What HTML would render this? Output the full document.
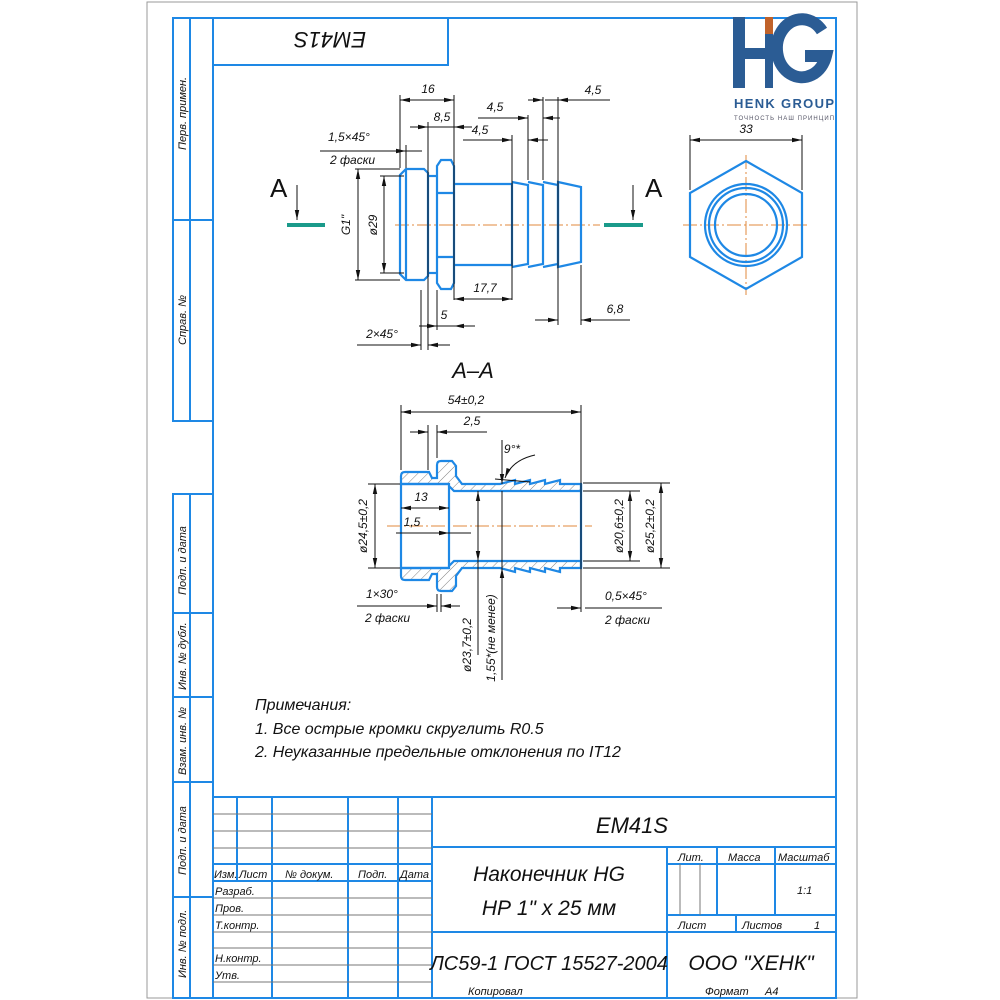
<!DOCTYPE html>
<html><head><meta charset="utf-8"><style>
html,body{margin:0;padding:0;background:#fff;}
svg{display:block;}
text{font-family:"Liberation Sans",sans-serif;font-style:italic;fill:#111;}
</style></head><body>
<svg width="1000" height="1000" viewBox="0 0 1000 1000" xmlns="http://www.w3.org/2000/svg">
<defs>
<marker id="a" viewBox="0 0 10 6" refX="10" refY="3" markerWidth="10" markerHeight="6" orient="auto-start-reverse" markerUnits="userSpaceOnUse"><path d="M0,0.8 L10,3 L0,5.2Z" fill="#111"/></marker>
<pattern id="h" width="7" height="7" patternUnits="userSpaceOnUse" patternTransform="rotate(45)"><line x1="0" y1="0" x2="0" y2="7" stroke="#666" stroke-width="0.8"/></pattern>
</defs>
<rect x="147" y="2" width="710" height="996" fill="none" stroke="#999" stroke-width="1"/>
<g fill="none" stroke="#1e88e5" stroke-width="2">
<path d="M173,18 L836,18 L836,998 L173,998"/>
<line x1="213" y1="18" x2="213" y2="998"/>
<rect x="213" y="18" width="235" height="47"/>
<rect x="173" y="18" width="17" height="403"/>
<line x1="173" y1="220" x2="213" y2="220"/>
<line x1="173" y1="421" x2="213" y2="421"/>
<rect x="173" y="494" width="17" height="504"/>
<line x1="173" y1="494" x2="213" y2="494"/>
<line x1="173" y1="613" x2="213" y2="613"/>
<line x1="173" y1="697" x2="213" y2="697"/>
<line x1="173" y1="782" x2="213" y2="782"/>
<line x1="173" y1="897" x2="213" y2="897"/>
<line x1="213" y1="797" x2="836" y2="797"/>
<line x1="432" y1="797" x2="432" y2="998"/>
<line x1="237" y1="797" x2="237" y2="881"/>
<line x1="272" y1="797" x2="272" y2="998"/>
<line x1="348" y1="797" x2="348" y2="998"/>
<line x1="398" y1="797" x2="398" y2="998"/>
<line x1="213" y1="864" x2="432" y2="864"/>
<line x1="213" y1="881" x2="432" y2="881"/>
<line x1="432" y1="847" x2="836" y2="847"/>
<line x1="432" y1="932" x2="836" y2="932"/>
<line x1="667" y1="847" x2="667" y2="998"/>
<line x1="667" y1="864" x2="836" y2="864"/>
<line x1="667" y1="915" x2="836" y2="915"/>
<line x1="717" y1="847" x2="717" y2="915"/>
<line x1="775" y1="847" x2="775" y2="915"/>
<line x1="736" y1="915" x2="736" y2="932"/>
</g>
<g stroke="#777" stroke-width="1">
<line x1="213" y1="814" x2="432" y2="814"/><line x1="213" y1="831" x2="432" y2="831"/><line x1="213" y1="848" x2="432" y2="848"/>
<line x1="213" y1="898" x2="432" y2="898"/><line x1="213" y1="915" x2="432" y2="915"/><line x1="213" y1="932" x2="432" y2="932"/>
<line x1="213" y1="948" x2="432" y2="948"/><line x1="213" y1="965" x2="432" y2="965"/><line x1="213" y1="982" x2="432" y2="982"/>
<line x1="680" y1="864" x2="680" y2="915"/><line x1="700" y1="864" x2="700" y2="915"/>
</g>
<g font-size="11">
<text transform="translate(186,150) rotate(-90)">Перв. примен.</text>
<text transform="translate(186,345) rotate(-90)">Справ. №</text>
<text transform="translate(186,595) rotate(-90)">Подп. и дата</text>
<text transform="translate(186,690) rotate(-90)">Инв. № дубл.</text>
<text transform="translate(186,775) rotate(-90)">Взам. инв. №</text>
<text transform="translate(186,875) rotate(-90)">Подп. и дата</text>
<text transform="translate(186,978) rotate(-90)">Инв. № подл.</text>
</g>
<text transform="translate(330,32) rotate(180)" font-size="22" text-anchor="middle">EM41S</text>
<g font-size="11">
<text x="214" y="878">Изм.</text><text x="239" y="878">Лист</text><text x="285" y="878">№ докум.</text><text x="358" y="878">Подп.</text><text x="400" y="878">Дата</text>
<text x="215" y="895">Разраб.</text><text x="215" y="912">Пров.</text><text x="215" y="929">Т.контр.</text><text x="215" y="962">Н.контр.</text><text x="215" y="979">Утв.</text>
<text x="678" y="861">Лит.</text><text x="728" y="861">Масса</text><text x="778" y="861">Масштаб</text>
<text x="678" y="929">Лист</text><text x="742" y="929">Листов</text><text x="814" y="929">1</text>
<text x="797" y="894">1:1</text>
<text x="468" y="995">Копировал</text><text x="705" y="995">Формат</text><text x="765" y="995">А4</text>
</g>
<text x="632" y="833" font-size="22" text-anchor="middle">EM41S</text>
<text x="549" y="881" font-size="21" text-anchor="middle">Наконечник HG</text>
<text x="549" y="915" font-size="21" text-anchor="middle">НР 1" x 25 мм</text>
<text x="549" y="970" font-size="20" text-anchor="middle">ЛС59-1 ГОСТ 15527-2004</text>
<text x="751" y="970" font-size="21" text-anchor="middle">ООО "ХЕНК"</text>
<!-- logo -->
<path d="M822,31 A25,29 0 1 0 826,56 L805,56" fill="none" stroke="#2b5c94" stroke-width="12"/>
<g fill="#2b5c94">
<rect x="733" y="17" width="12" height="71"/><rect x="733" y="48" width="36" height="11"/><rect x="765" y="33" width="8" height="55"/>
</g>
<rect x="765" y="17" width="8" height="17" fill="#c0622a"/>
<text x="784" y="108" font-size="13" text-anchor="middle" textLength="100" style="fill:#2b5c94;font-style:normal;font-weight:bold">HENK GROUP</text>
<text x="784" y="120" font-size="6" text-anchor="middle" textLength="100" style="fill:#556;font-style:normal">ТОЧНОСТЬ НАШ ПРИНЦИП</text>
<g stroke="#e08a3c" stroke-width="1" stroke-dasharray="14,3,2,3" fill="none">
<line x1="395" y1="225" x2="600" y2="225"/><line x1="683" y1="225" x2="810" y2="225"/><line x1="746" y1="155" x2="746" y2="295"/>
<line x1="387" y1="526" x2="592" y2="526"/>
</g>
<g fill="none" stroke="#1e88e5" stroke-width="2.2">
<path d="M406,169 L424,169 L428,173 L428,276 L424,280 L406,280 L400,274 L400,175 Z"/>
<line x1="406" y1="169" x2="406" y2="280"/>
<path d="M441,160 L451,160 L454,166 L454,283 L451,289 L441,289 L437,283 L437,166 Z"/>
<line x1="437" y1="193" x2="454" y2="193"/><line x1="437" y1="257" x2="454" y2="257"/>
<line x1="428" y1="176" x2="437" y2="176"/><line x1="428" y1="273" x2="437" y2="273"/>
<path d="M454,184 L512,184 L512,265 L454,265"/>
<path d="M512,182 L528,185 L528,264 L512,267"/>
<path d="M528,182 L543,185 L543,264 L528,267"/>
<path d="M543,182 L558,185 L558,264 L543,267"/>
<path d="M558,182 L581,187 L581,262 L558,267 Z"/>
<polygon points="746,161 802,193 802,257 746,289 690,257 690,193"/>
<circle cx="746" cy="225" r="41"/><circle cx="746" cy="225" r="37"/><circle cx="746" cy="225" r="31"/>
</g>
<g stroke="#1a9a8a" stroke-width="4"><line x1="287" y1="225" x2="325" y2="225"/><line x1="604" y1="225" x2="643" y2="225"/></g>
<g stroke="#111" stroke-width="1" fill="none">
<line x1="297" y1="185" x2="297" y2="220" marker-end="url(#a)"/><line x1="633" y1="185" x2="633" y2="220" marker-end="url(#a)"/>
<line x1="400" y1="95" x2="400" y2="168"/><line x1="454" y1="95" x2="454" y2="300"/><line x1="428" y1="122" x2="428" y2="350"/>
<line x1="406" y1="145" x2="406" y2="168"/><line x1="421" y1="290" x2="421" y2="350"/><line x1="437" y1="290" x2="437" y2="330"/>
<line x1="512" y1="135" x2="512" y2="300"/><line x1="528" y1="115" x2="528" y2="180"/><line x1="543" y1="97" x2="543" y2="180"/><line x1="558" y1="97" x2="558" y2="325"/><line x1="581" y1="265" x2="581" y2="325"/>
<line x1="355" y1="169" x2="400" y2="169"/><line x1="355" y1="280" x2="400" y2="280"/><line x1="380" y1="176" x2="404" y2="176"/><line x1="380" y1="273" x2="404" y2="273"/>
<line x1="690" y1="135" x2="690" y2="190"/><line x1="802" y1="135" x2="802" y2="190"/>
<line x1="400" y1="100" x2="454" y2="100" marker-start="url(#a)" marker-end="url(#a)"/>
<line x1="410" y1="127" x2="428" y2="127" marker-end="url(#a)"/><line x1="472" y1="127" x2="454" y2="127" marker-end="url(#a)"/><line x1="428" y1="127" x2="454" y2="127"/>
<line x1="320" y1="151" x2="406" y2="151" marker-end="url(#a)"/><line x1="422" y1="151" x2="406" y2="151"/>
<line x1="358" y1="169" x2="358" y2="280" marker-start="url(#a)" marker-end="url(#a)"/>
<line x1="384" y1="176" x2="384" y2="273" marker-start="url(#a)" marker-end="url(#a)"/>
<line x1="545" y1="100" x2="610" y2="100"/><line x1="528" y1="100" x2="543" y2="100" marker-end="url(#a)"/><line x1="575" y1="100" x2="558" y2="100" marker-end="url(#a)"/>
<line x1="478" y1="118" x2="528" y2="118" marker-end="url(#a)"/><line x1="560" y1="118" x2="543" y2="118" marker-end="url(#a)"/>
<line x1="463" y1="140" x2="512" y2="140" marker-end="url(#a)"/><line x1="548" y1="140" x2="528" y2="140" marker-end="url(#a)"/>
<line x1="454" y1="299" x2="512" y2="299" marker-start="url(#a)" marker-end="url(#a)"/>
<line x1="419" y1="326" x2="437" y2="326" marker-end="url(#a)"/><line x1="475" y1="326" x2="454" y2="326" marker-end="url(#a)"/><line x1="437" y1="326" x2="454" y2="326"/>
<line x1="357" y1="345" x2="421" y2="345" marker-end="url(#a)"/><line x1="450" y1="345" x2="428" y2="345" marker-end="url(#a)"/>
<line x1="535" y1="320" x2="558" y2="320" marker-end="url(#a)"/><line x1="630" y1="320" x2="581" y2="320" marker-end="url(#a)"/>
<line x1="690" y1="140" x2="802" y2="140" marker-start="url(#a)" marker-end="url(#a)"/>
</g>
<g font-size="12">
<text x="428" y="93" text-anchor="middle">16</text><text x="442" y="121" text-anchor="middle">8,5</text>
<text x="328" y="141">1,5×45°</text><text x="330" y="164">2 фаски</text>
<text x="593" y="94" text-anchor="middle">4,5</text><text x="495" y="111" text-anchor="middle">4,5</text><text x="480" y="134" text-anchor="middle">4,5</text>
<text x="485" y="292" text-anchor="middle">17,7</text><text x="444" y="319" text-anchor="middle">5</text><text x="382" y="338" text-anchor="middle">2×45°</text><text x="615" y="313" text-anchor="middle">6,8</text>
<text x="746" y="133" text-anchor="middle">33</text>
<text transform="translate(350,225) rotate(-90)" text-anchor="middle">G1"</text>
<text transform="translate(377,225) rotate(-90)" text-anchor="middle">ø29</text>
</g>
<text x="270" y="197" font-size="26" style="font-style:normal">A</text><text x="645" y="197" font-size="26" style="font-style:normal">A</text>
<text x="473" y="378" font-size="22" text-anchor="middle">A–A</text>
<path d="M401,484 L401,476 Q401,472 405,472 L429,472 L432,478 L437,478 L437,465 Q437,461 441,461 L452,461 L456,466 L456,476 L462,484 L500,484 L515,480 L515,484 L530,480 L530,484 L545,480 L545,484 L560,480 L560,484 L581,484 L581,491 L454,491 L449,486 L449,484 Z" fill="url(#h)" stroke="#1e88e5" stroke-width="2.2"/>
<path d="M401,568 L401,576 Q401,580 405,580 L429,580 L432,574 L437,574 L437,587 Q437,591 441,591 L452,591 L456,586 L456,576 L462,568 L500,568 L515,572 L515,568 L530,572 L530,568 L545,572 L545,568 L560,572 L560,568 L581,568 L581,561 L454,561 L449,566 L449,568 Z" fill="url(#h)" stroke="#1e88e5" stroke-width="2.2"/>
<g stroke="#1e88e5" stroke-width="2.2"><line x1="401" y1="484" x2="401" y2="568"/><line x1="449" y1="486" x2="449" y2="566"/><line x1="581" y1="484" x2="581" y2="568"/><line x1="401" y1="484" x2="449" y2="484"/><line x1="401" y1="568" x2="449" y2="568"/></g>
<g stroke="#111" stroke-width="1" fill="none">
<line x1="401" y1="405" x2="401" y2="470"/><line x1="581" y1="405" x2="581" y2="612"/>
<line x1="428" y1="425" x2="428" y2="470"/><line x1="437" y1="425" x2="437" y2="458"/>
<line x1="437" y1="594" x2="437" y2="612"/><line x1="441" y1="594" x2="441" y2="612"/>
<line x1="368" y1="484" x2="400" y2="484"/><line x1="368" y1="568" x2="400" y2="568"/>
<line x1="583" y1="483" x2="670" y2="483"/><line x1="583" y1="568" x2="670" y2="568"/><line x1="583" y1="491" x2="640" y2="491"/><line x1="583" y1="561" x2="640" y2="561"/>
<line x1="401" y1="412" x2="581" y2="412" marker-start="url(#a)" marker-end="url(#a)"/>
<line x1="410" y1="432" x2="428" y2="432" marker-end="url(#a)"/><line x1="487" y1="432" x2="437" y2="432" marker-end="url(#a)"/>
<line x1="401" y1="508" x2="449" y2="508" marker-start="url(#a)" marker-end="url(#a)"/>
<line x1="396" y1="533" x2="449" y2="533" marker-end="url(#a)"/><line x1="471" y1="533" x2="449" y2="533"/>
<line x1="375" y1="484" x2="375" y2="568" marker-start="url(#a)" marker-end="url(#a)"/>
<line x1="630" y1="491" x2="630" y2="561" marker-start="url(#a)" marker-end="url(#a)"/>
<line x1="661" y1="483" x2="661" y2="568" marker-start="url(#a)" marker-end="url(#a)"/>
<line x1="478" y1="491" x2="478" y2="655" marker-start="url(#a)"/><line x1="478" y1="491" x2="478" y2="561" marker-end="url(#a)"/>
<line x1="502" y1="440" x2="502" y2="484" marker-end="url(#a)"/><line x1="502" y1="680" x2="502" y2="491"/><line x1="502" y1="590" x2="502" y2="568" marker-end="url(#a)"/>
<path d="M535,455 Q512,460 505,478" marker-end="url(#a)"/><line x1="495" y1="479" x2="530" y2="482"/>
<line x1="357" y1="606" x2="437" y2="606" marker-end="url(#a)"/><line x1="460" y1="606" x2="441" y2="606" marker-end="url(#a)"/>
<line x1="557" y1="608" x2="581" y2="608" marker-end="url(#a)"/><line x1="662" y1="608" x2="585" y2="608"/>
</g>
<g font-size="12">
<text x="466" y="404" text-anchor="middle">54±0,2</text><text x="472" y="425" text-anchor="middle">2,5</text>
<text x="512" y="453" text-anchor="middle">9°*</text>
<text x="421" y="501" text-anchor="middle">13</text><text x="412" y="526" text-anchor="middle">1,5</text>
<text transform="translate(367,526) rotate(-90)" text-anchor="middle">ø24,5±0,2</text>
<text transform="translate(623,526) rotate(-90)" text-anchor="middle">ø20,6±0,2</text>
<text transform="translate(654,526) rotate(-90)" text-anchor="middle">ø25,2±0,2</text>
<text transform="translate(471,645) rotate(-90)" text-anchor="middle">ø23,7±0,2</text>
<text transform="translate(495,638) rotate(-90)" text-anchor="middle">1,55*(не менее)</text>
<text x="366" y="598">1×30°</text><text x="365" y="622">2 фаски</text>
<text x="605" y="600">0,5×45°</text><text x="605" y="624">2 фаски</text>
</g>
<g font-size="16">
<text x="255" y="710">Примечания:</text>
<text x="255" y="734">1. Все острые кромки скруглить R0.5</text>
<text x="255" y="757">2. Неуказанные предельные отклонения по IT12</text>
</g>
</svg>
</body></html>
